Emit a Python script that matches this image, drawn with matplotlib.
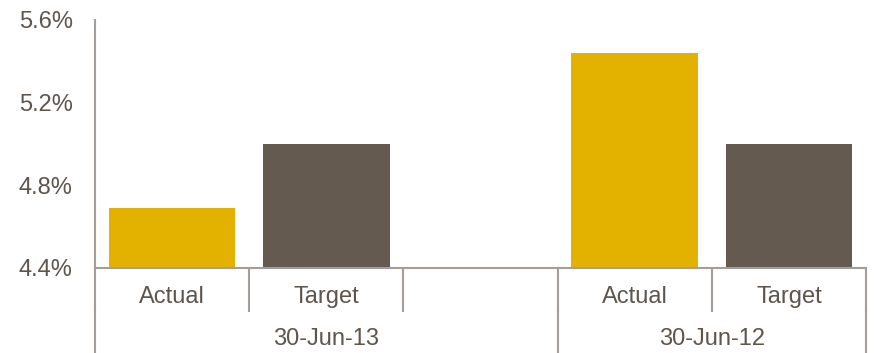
import numpy as np
import matplotlib.pyplot as plt
import matplotlib.transforms as mtransforms

# slots along the x axis (blank slot separates the two dates)
slot_labels = ["Actual", "Target", "", "Actual", "Target"]
slot_values = [4.69, 5.00, np.nan, 5.44, 5.00]
group_labels = ["30-Jun-13", "30-Jun-12"]
group_sizes = [3, 2]
y_ticks = [4.4, 4.8, 5.2, 5.6]

gold = "#E3B100"
brown = "#645A50"
text_col = "#5E554D"
line_col = "#A39E99"

plt.rcParams['font.family'] = ['Liberation Sans', 'DejaVu Sans']

fig = plt.figure(figsize=(8.74, 3.53), dpi=100)
ax = fig.add_axes([95/874, (353-268)/353, (866-95)/874, (268-20)/353])

x = np.arange(len(slot_labels))
colors = [gold if lab == "Actual" else brown for lab in slot_labels]
vals = np.array(slot_values)
ok = ~np.isnan(vals)
ax.bar(x[ok], vals[ok] - 4.4, bottom=4.4, width=0.82, color=np.array(colors)[ok], zorder=2)

ax.set_xlim(-0.5, len(slot_labels) - 0.5)
ax.set_ylim(4.4, 5.6)
ax.set_yticks(y_ticks)
ax.set_yticklabels(['%.1f%%' % v for v in y_ticks])
ax.tick_params(axis='y', length=0, pad=16, labelsize=17, labelcolor=text_col)
ax.set_xticks([])

for s in ['top', 'right']:
    ax.spines[s].set_visible(False)
for s in ['left', 'bottom']:
    ax.spines[s].set_color(line_col)
    ax.spines[s].set_linewidth(1.5)

trans = mtransforms.blended_transform_factory(ax.transData, ax.transAxes)

# first level: one cell per slot
edges = np.arange(len(slot_labels) + 1) - 0.5
for e in edges:
    ax.plot([e, e], [0, -0.173], transform=trans, color=line_col, lw=1.5, clip_on=False)
for xi, lab in zip(x, slot_labels):
    ax.text(xi, -0.117, lab, transform=trans, ha='center', va='center',
            fontsize=17, color=text_col)

# second level: date groups
start = -0.5
bounds = [start]
for n in group_sizes:
    bounds.append(bounds[-1] + n)
for b in bounds:
    ax.plot([b, b], [-0.173, -0.35], transform=trans, color=line_col, lw=1.5, clip_on=False)
for i, lab in enumerate(group_labels):
    mid = (bounds[i] + bounds[i + 1]) / 2
    ax.text(mid, -0.286, lab, transform=trans, ha='center', va='center',
            fontsize=17, color=text_col)

fig.savefig("out.png", dpi=100)
